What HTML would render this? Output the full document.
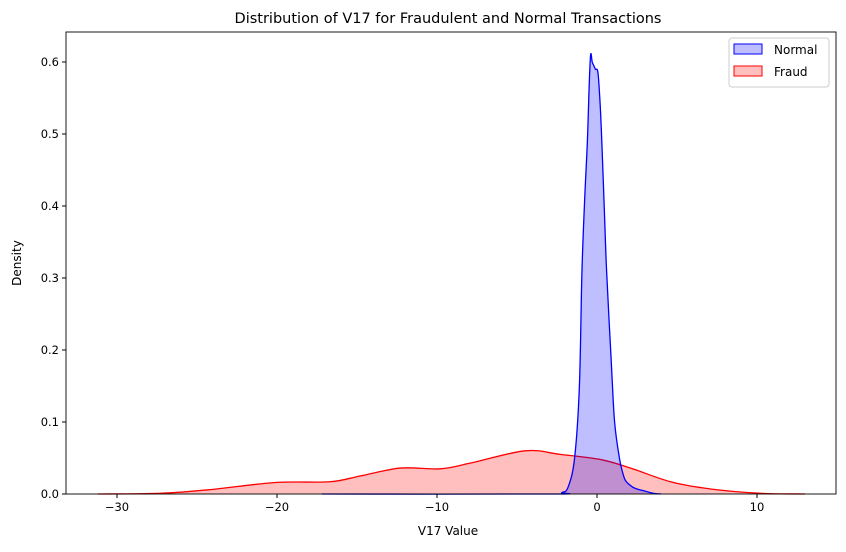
<!DOCTYPE html>
<html><head><meta charset="utf-8"><style>
body{margin:0;background:#fff;font-family:"Liberation Sans","DejaVu Sans",sans-serif}
text{font-family:"DejaVu Sans","Liberation Sans",sans-serif}
</style></head><body>
<svg id="chart" width="846" height="547" viewBox="0 0 846 547" xmlns="http://www.w3.org/2000/svg">
<rect width="846" height="547" fill="#fff"/>
<text x="448" y="23" text-anchor="middle" font-size="14.5">Distribution of V17 for Fraudulent and Normal Transactions</text>
<g id="plot"></g>
<text x="448" y="535" text-anchor="middle" font-size="12">V17 Value</text>
<text transform="translate(21,263) rotate(-90)" text-anchor="middle" font-size="12">Density</text>
<g>
<rect x="729" y="38" width="100" height="49" rx="3" fill="#fff" stroke="#ccc"/>
<rect x="734" y="44" width="28" height="10" fill="rgba(0,0,255,0.25)" stroke="#00f"/>
<text x="774" y="54" font-size="12">Normal</text>
<rect x="734" y="66" width="28" height="10" fill="rgba(255,0,0,0.25)" stroke="#f00"/>
<text x="774" y="76" font-size="12">Fraud</text>
</g>
</svg>
<script>
const normalX=[-17.2,-3,-2.2,-1.8,-1.4,-1.1,-0.94,-0.75,-0.6,-0.5,-0.4,-0.3,-0.2,-0.1,0.06,0.2,0.3,0.45,0.6,0.9,1.1,1.4,1.6,1.8,2.2,2.5,3,3.5,4];
const normalY=[0,0,0.002,0.01,0.05,0.15,0.31,0.42,0.49,0.56,0.61,0.60,0.595,0.59,0.585,0.54,0.49,0.40,0.31,0.18,0.1,0.05,0.03,0.018,0.01,0.007,0.004,0.001,0];
const fraudX=[-31.2,-27.3,-24.2,-20.1,-16.7,-14.8,-12.3,-9.8,-7.9,-4.5,-2.3,0.2,2.1,4.6,7.1,10.2,13];
const fraudY=[0,0.001,0.006,0.016,0.017,0.025,0.036,0.035,0.043,0.060,0.055,0.048,0.036,0.017,0.007,0.001,0];
const xTicks=[-30,-20,-10,0,10];
const yTicks=[0,0.1,0.2,0.3,0.4,0.5,0.6];
const L=66,R=836,T=32,B=494;
const sx=v=>597+16*v, sy=v=>B-720*v;
const NS="http://www.w3.org/2000/svg", g=document.getElementById('plot');
function mk(t,a){const e=document.createElementNS(NS,t);for(const k in a)e.setAttribute(k,a[k]);g.appendChild(e);return e;}
function smooth(xs,ys){const p=xs.map((x,i)=>[sx(x),sy(ys[i])]);let d=`M${p[0][0]},${p[0][1]}`;
for(let i=0;i<p.length-1;i++){const p0=p[i-1]||p[i],p1=p[i],p2=p[i+1],p3=p[i+2]||p2;
d+=` C${p1[0]+(p2[0]-p0[0])/6},${p1[1]+(p2[1]-p0[1])/6} ${p2[0]-(p3[0]-p1[0])/6},${p2[1]-(p3[1]-p1[1])/6} ${p2[0]},${p2[1]}`;}return d;}
function series(xs,ys,col,fill,name){const d=smooth(xs,ys);
const a=mk('path',{d:d+` L${sx(xs[xs.length-1])},${B} L${sx(xs[0])},${B} Z`,fill:fill,stroke:'none'});


const l=mk('path',{d:d,fill:'none',stroke:col,'stroke-width':1.3});

}
series(fraudX,fraudY,'#f00','rgba(255,0,0,0.25)','fraud-density');
series(normalX,normalY,'#00f','rgba(0,0,255,0.25)','normal-density');
const f=mk('rect',{x:L,y:T,width:R-L,height:B-T,fill:'none',stroke:'#000','stroke-width':0.9});


xTicks.forEach(v=>{mk('line',{x1:sx(v),x2:sx(v),y1:B,y2:B+4,stroke:'#000'});
const t=mk('text',{x:sx(v),y:B+17,'text-anchor':'middle','font-size':11.5});t.textContent=(v<0?'\u2212':'')+Math.abs(v);

});
yTicks.forEach(v=>{mk('line',{x1:L-4,x2:L,y1:sy(v),y2:sy(v),stroke:'#000'});
const t=mk('text',{x:L-7,y:sy(v)+4,'text-anchor':'end','font-size':11.5});t.textContent=v.toFixed(1);

});
</script>
</body></html>
